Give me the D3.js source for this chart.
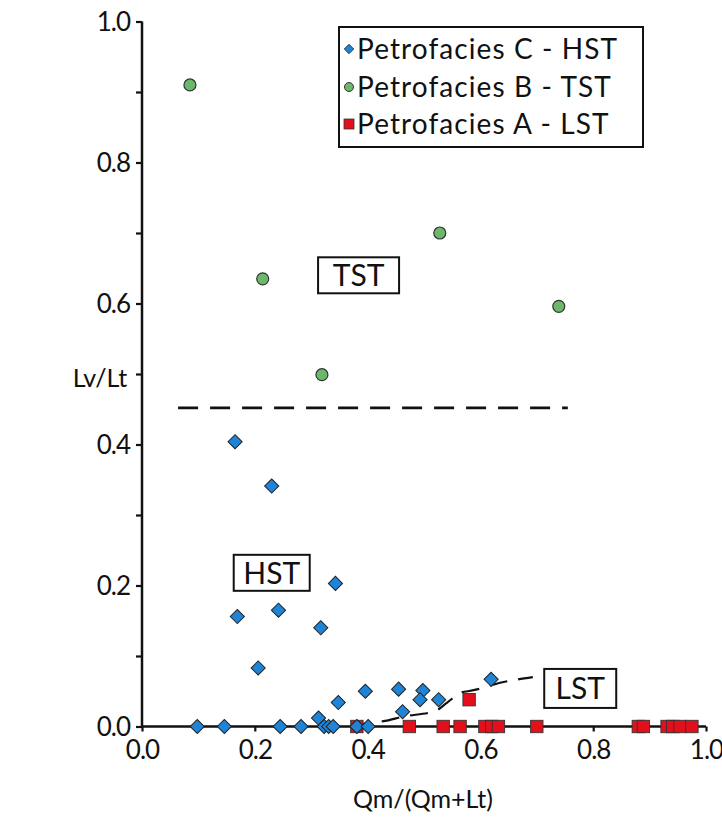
<!DOCTYPE html>
<html>
<head>
<meta charset="utf-8">
<script src="https://cdn.jsdelivr.net/npm/d3@7"></script>
<style>
  html, body { margin: 0; padding: 0; background: #fff; }
  svg { display: block; font-family: Lato, "Open Sans", sans-serif; }
</style>
</head>
<body>
<svg id="chart" width="722" height="818"></svg>
<script>
// Petrofacies C (highstand) — Qm/(Qm+Lt) and Lv/Lt
const hstX = [0.165, 0.230, 0.343, 0.169, 0.242, 0.317, 0.206, 0.348, 0.396, 0.455, 0.498, 0.493, 0.462, 0.526, 0.619, 0.313,
              0.098, 0.146, 0.245, 0.282, 0.323, 0.331, 0.339, 0.381, 0.401];
const hstY = [0.404, 0.341, 0.203, 0.156, 0.165, 0.140, 0.083, 0.034, 0.050, 0.053, 0.051, 0.038, 0.021, 0.038, 0.067, 0.012,
              0, 0, 0, 0, 0, 0, 0, 0, 0];
// Petrofacies B (transgressive)
const tstX = [0.085, 0.214, 0.319, 0.528, 0.739];
const tstY = [0.910, 0.635, 0.499, 0.700, 0.596];
// Petrofacies A (lowstand)
const lstX = [0.381, 0.474, 0.534, 0.564, 0.608, 0.620, 0.632, 0.700, 0.880, 0.889, 0.931, 0.941, 0.954, 0.975, 0.580];
const lstY = [0, 0, 0, 0, 0, 0, 0, 0, 0, 0, 0, 0, 0, 0, 0.038];

// Field boundaries
const tstBoundaryX = [0.064, 0.755];
const tstBoundaryY = [0.452, 0.452];
const lstBoundaryX = [0.374, 0.431, 0.463, 0.520, 0.541, 0.569, 0.578, 0.596, 0.635, 0.693];
const lstBoundaryY = [0.002, 0.008, 0.014, 0.022, 0.034, 0.049, 0.050, 0.053, 0.062, 0.070];

// Axis ticks
const xTickValues = [0, 0.2, 0.4, 0.6, 0.8, 1.0];
const xTickLabels = ["0.0", "0.2", "0.4", "0.6", "0.8", "1.0"];
const yTickValues = [0, 0.1, 0.2, 0.3, 0.4, 0.5, 0.6, 0.7, 0.8, 0.9, 1.0];
const yTickLabels = ["0.0", "", "0.2", "", "0.4", "", "0.6", "", "0.8", "", "1.0"];

// Field labels (anchored in data units)
const fieldNames = ["TST", "HST", "LST"];
const fieldX = [0.384, 0.230, 0.777];
const fieldY = [0.640, 0.218, 0.054];

const legendNames = ["Petrofacies C - HST", "Petrofacies B - TST", "Petrofacies A - LST"];

const colors = { hst: "#1f84d6", tst: "#6cb86a", lst: "#e3101b" };

const svg = d3.select("#chart");
const x = d3.scaleLinear().domain([0, 1]).range([142, 706]);
const y = d3.scaleLinear().domain([0, 1]).range([726.5, 21.5]);

// Boundaries
const line = d3.line().x(d => x(d[0])).y(d => y(d[1]));
svg.append("path")
  .attr("d", line(tstBoundaryX.map((v, i) => [v, tstBoundaryY[i]])))
  .attr("fill", "none").attr("stroke", "#111").attr("stroke-width", 2.6)
  .attr("stroke-dasharray", "20 12");
svg.append("path")
  .attr("d", d3.line().x(d => x(d[0])).y(d => y(d[1])).curve(d3.curveMonotoneX)(lstBoundaryX.map((v, i) => [v, lstBoundaryY[i]])))
  .attr("fill", "none").attr("stroke", "#111").attr("stroke-width", 2.2)
  .attr("stroke-dasharray", "18 11");

// Axes
const xAxis = d3.axisBottom(x).tickValues(xTickValues)
  .tickFormat((d, i) => xTickLabels[i]).tickSize(5).tickPadding(8);
const yAxis = d3.axisLeft(y).tickValues(yTickValues)
  .tickFormat((d, i) => yTickLabels[i]).tickSize(6).tickPadding(6);

const gx = svg.append("g").attr("transform", `translate(0,${y(0)})`).call(xAxis);
const gy = svg.append("g").attr("transform", `translate(${x(0)},0)`).call(yAxis);
[gx, gy].forEach(g => {
  g.select(".domain").attr("stroke", "#111").attr("stroke-width", 2.5);
  g.selectAll(".tick line").attr("stroke", "#111").attr("stroke-width", 2.2);
  g.selectAll(".tick text").attr("fill", "#111")
    .style("font-family", "Lato, sans-serif").style("font-size", "26px").style("letter-spacing", "-1px");
});
gx.select(".domain").attr("d", `M${x(0)},0H${x(1)}`);
gy.select(".domain").attr("d", `M0,${y(0)}V${y(1)}`);
gy.selectAll(".tick text").attr("dy", "0.36em");
gx.selectAll(".tick text").attr("dy", "0.75em");

// Axis titles
svg.append("text").attr("x", 100).attr("y", 387).attr("text-anchor", "middle")
  .style("font-size", "25px").attr("fill", "#111").text("Lv/Lt");
svg.append("text").attr("x", 423).attr("y", 808).attr("text-anchor", "middle")
  .style("font-size", "25px").attr("fill", "#111").text("Qm/(Qm+Lt)");

// Field label boxes
const boxW = [81, 76, 72], boxH = [36, 36, 39];
fieldNames.forEach((name, i) => {
  const cx = x(fieldX[i]), cy = y(fieldY[i]);
  svg.append("rect").attr("x", cx - boxW[i] / 2).attr("y", cy - boxH[i] / 2)
    .attr("width", boxW[i]).attr("height", boxH[i])
    .attr("fill", "#fff").attr("stroke", "#111").attr("stroke-width", 2);
  svg.append("text").attr("x", cx).attr("y", cy + 11).attr("text-anchor", "middle")
    .style("font-size", "30px").attr("fill", "#111").text(name);
});

// Markers
const diamond = d3.symbol().type(d3.symbolSquare).size(100)();
svg.append("g").selectAll("rect")
  .data(lstX.map((v, i) => [v, lstY[i]]))
  .join("rect")
  .attr("x", d => x(d[0]) - 6.2).attr("y", d => y(d[1]) - 6.2)
  .attr("width", 12.4).attr("height", 12.4)
  .attr("fill", colors.lst).attr("stroke", "#333").attr("stroke-width", 0.9);
svg.append("g").selectAll("circle")
  .data(tstX.map((v, i) => [v, tstY[i]]))
  .join("circle")
  .attr("cx", d => x(d[0])).attr("cy", d => y(d[1])).attr("r", 6)
  .attr("fill", colors.tst).attr("stroke", "#333").attr("stroke-width", 1.2);
svg.append("g").selectAll("path")
  .data(hstX.map((v, i) => [v, hstY[i]]))
  .join("path")
  .attr("d", diamond)
  .attr("transform", d => `translate(${x(d[0])},${y(d[1])}) rotate(45)`)
  .attr("fill", colors.hst).attr("stroke", "#222").attr("stroke-width", 1);

// Legend
const lg = svg.append("g");
lg.append("rect").attr("x", 339).attr("y", 27).attr("width", 304).attr("height", 120)
  .attr("fill", "#fff").attr("stroke", "#111").attr("stroke-width", 2);
const rowY = [59, 97, 134];
legendNames.forEach((name, i) => {
  lg.append("text").attr("x", 357).attr("y", rowY[i])
    .style("font-size", "28px").style("letter-spacing", "1.1px").attr("fill", "#111").text(name);
});
lg.append("path").attr("d", d3.symbol().type(d3.symbolSquare).size(45)())
  .attr("transform", `translate(349,${rowY[0] - 10}) rotate(45)`)
  .attr("fill", colors.hst).attr("stroke", "#222").attr("stroke-width", 0.8);
lg.append("circle").attr("cx", 349).attr("cy", rowY[1] - 10).attr("r", 4.5)
  .attr("fill", colors.tst).attr("stroke", "#333").attr("stroke-width", 1);
lg.append("rect").attr("x", 344).attr("y", rowY[2] - 15).attr("width", 10).attr("height", 10)
  .attr("fill", colors.lst).attr("stroke", "#333").attr("stroke-width", 0.8);
</script>
</body>
</html>
